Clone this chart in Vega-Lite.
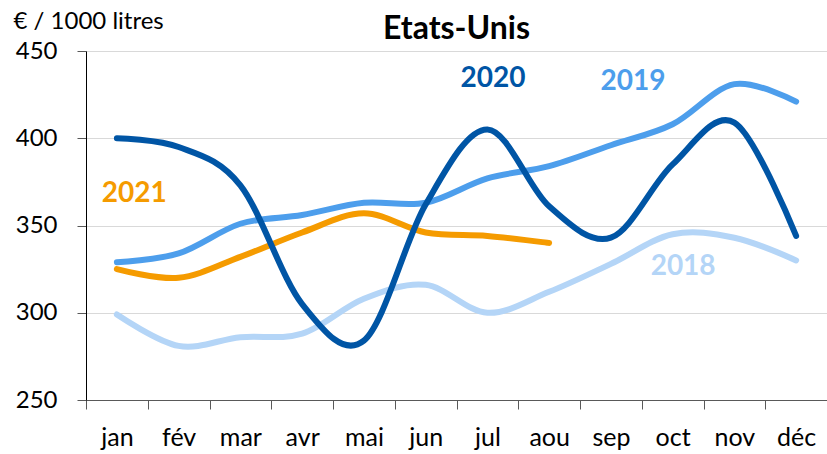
{
  "$schema": "https://vega.github.io/schema/vega-lite/v6.json",
  "width": 741,
  "height": 349,
  "autosize": {"type": "none"},
  "padding": {"left": 86, "top": 51, "right": 0, "bottom": 54},
  "background": "white",
  "title": {"text": "Etats-Unis", "font": "Lato", "fontSize": 32, "fontWeight": "bold", "color": "#000000", "anchor": "middle", "offset": -37},
  "config": {"view": {"stroke": null}, "font": "Lato"},
  "datasets": {
    "series": [
      {"year": "2018", "m": 1, "value": 299}, {"year": "2018", "m": 2, "value": 281}, {"year": "2018", "m": 3, "value": 286}, {"year": "2018", "m": 4, "value": 288},
      {"year": "2018", "m": 5, "value": 308}, {"year": "2018", "m": 6, "value": 316}, {"year": "2018", "m": 7, "value": 300}, {"year": "2018", "m": 8, "value": 312},
      {"year": "2018", "m": 9, "value": 328}, {"year": "2018", "m": 10, "value": 345}, {"year": "2018", "m": 11, "value": 343}, {"year": "2018", "m": 12, "value": 330},
      {"year": "2019", "m": 1, "value": 329}, {"year": "2019", "m": 2, "value": 334}, {"year": "2019", "m": 3, "value": 351}, {"year": "2019", "m": 4, "value": 356},
      {"year": "2019", "m": 5, "value": 363}, {"year": "2019", "m": 6, "value": 363}, {"year": "2019", "m": 7, "value": 377}, {"year": "2019", "m": 8, "value": 384},
      {"year": "2019", "m": 9, "value": 396}, {"year": "2019", "m": 10, "value": 408}, {"year": "2019", "m": 11, "value": 431}, {"year": "2019", "m": 12, "value": 421},
      {"year": "2021", "m": 1, "value": 325}, {"year": "2021", "m": 2, "value": 320}, {"year": "2021", "m": 3, "value": 332}, {"year": "2021", "m": 4, "value": 346},
      {"year": "2021", "m": 5, "value": 357}, {"year": "2021", "m": 6, "value": 346}, {"year": "2021", "m": 7, "value": 344}, {"year": "2021", "m": 8, "value": 340},
      {"year": "2020", "m": 1, "value": 400}, {"year": "2020", "m": 2, "value": 395}, {"year": "2020", "m": 3, "value": 373}, {"year": "2020", "m": 4, "value": 305},
      {"year": "2020", "m": 5, "value": 284}, {"year": "2020", "m": 6, "value": 362}, {"year": "2020", "m": 7, "value": 405}, {"year": "2020", "m": 8, "value": 361},
      {"year": "2020", "m": 9, "value": 343}, {"year": "2020", "m": 10, "value": 385}, {"year": "2020", "m": 11, "value": 409}, {"year": "2020", "m": 12, "value": 344}
    ],
    "labels": [
      {"year": "2021", "m": 1.28, "value": 368},
      {"year": "2020", "m": 7.09, "value": 434},
      {"year": "2019", "m": 9.36, "value": 432},
      {"year": "2018", "m": 10.17, "value": 326}
    ]
  },
  "layer": [
    {
      "data": {"name": "series"},
      "mark": {"type": "line", "interpolate": "cardinal", "strokeWidth": 6, "strokeCap": "round", "strokeJoin": "round"},
      "encoding": {
        "x": {
          "field": "m", "type": "quantitative",
          "scale": {"domain": [0.5, 12.5], "nice": false, "zero": false},
          "axis": {
            "values": [0.5, 1.5, 2.5, 3.5, 4.5, 5.5, 6.5, 7.5, 8.5, 9.5, 10.5, 11.5, 12.5],
            "labelExpr": "datum.value < 12 ? ['jan','fév','mar','avr','mai','jun','jul','aou','sep','oct','nov','déc'][floor(datum.value)] : ''",
            "labelOffset": 30.9, "labelFlush": false, "labelOverlap": false, "labelBound": false,
            "grid": false, "title": null, "tickSize": 9, "tickColor": "#595959", "domainColor": "#595959",
            "labelFontSize": 25, "labelColor": "#000000", "labelPadding": 16, "labelFont": "Lato"
          }
        },
        "y": {
          "field": "value", "type": "quantitative",
          "scale": {"domain": [250, 450], "nice": false, "zero": false},
          "axis": {
            "values": [250, 300, 350, 400, 450], "grid": true, "gridColor": "#d9d9d9", "tickSize": 9, "tickColor": "#595959",
            "domainColor": "#000000", "labelPadding": 20, "labelFontSize": 24, "labelColor": "#000000", "labelFont": "Lato",
            "title": "€ / 1000 litres", "titleAngle": 0, "titleAlign": "left", "titleBaseline": "alphabetic",
            "titleX": -73, "titleY": -23, "titleFontSize": 24, "titleFontWeight": "normal", "titleColor": "#000000", "titleFont": "Lato"
          }
        },
        "color": {
          "field": "year", "type": "nominal",
          "scale": {"domain": ["2018", "2019", "2020", "2021"], "range": ["#b4d5f7", "#4d9eec", "#0055a5", "#f59b00"]},
          "legend": null
        }
      }
    },
    {
      "data": {"name": "labels"},
      "mark": {"type": "text", "fontWeight": "bold", "fontSize": 28, "font": "Lato", "align": "center", "baseline": "middle"},
      "encoding": {
        "x": {"field": "m", "type": "quantitative"},
        "y": {"field": "value", "type": "quantitative"},
        "text": {"field": "year"},
        "color": {"field": "year", "type": "nominal", "legend": null}
      }
    }
  ]
}
